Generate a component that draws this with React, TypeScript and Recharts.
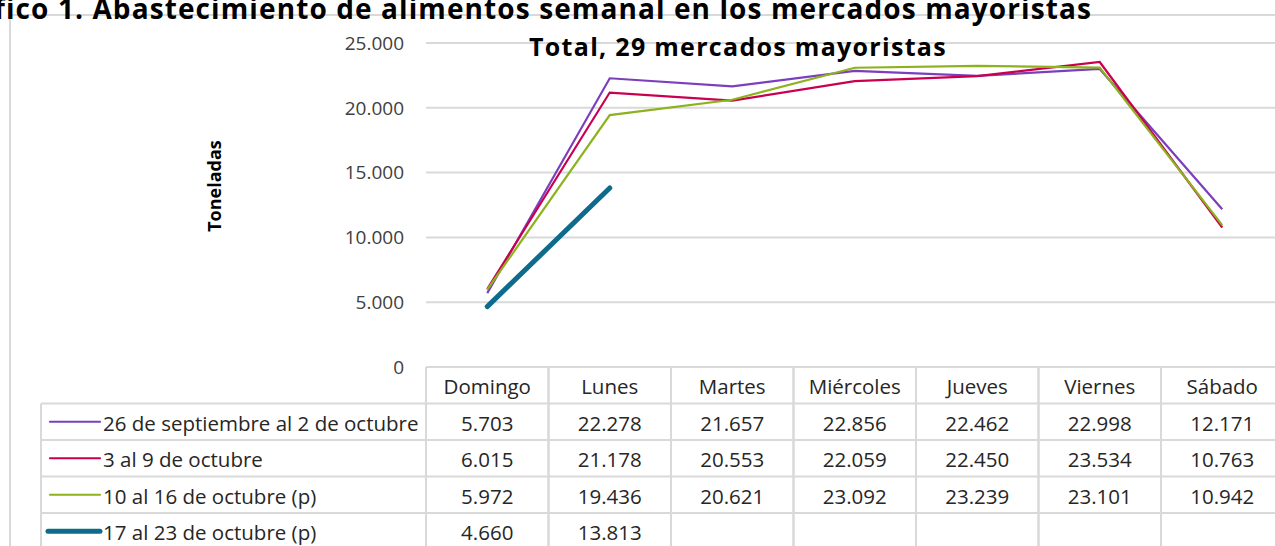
import React from "react";
import { CartesianGrid, Line, LineChart, XAxis, YAxis } from "recharts";

const DAYS = ["Domingo", "Lunes", "Martes", "Miércoles", "Jueves", "Viernes", "Sábado"];
const SEMANA_1 = [5703, 22278, 21657, 22856, 22462, 22998, 12171];
const SEMANA_2 = [6015, 21178, 20553, 22059, 22450, 23534, 10763];
const SEMANA_3 = [5972, 19436, 20621, 23092, 23239, 23101, 10942];
const SEMANA_4 = [4660, 13813, null, null, null, null, null];
const SERIES_NAMES = [
  "26 de septiembre al 2 de octubre",
  "3 al 9 de octubre",
  "10 al 16 de octubre (p)",
  "17 al 23 de octubre (p)",
];
const Y_TICKS = [0, 5000, 10000, 15000, 20000, 25000];

const COLORS = ["#7b3fbd", "#c8004f", "#8cb21d", "#0e6b8c"];
const WIDTHS = [2.2, 2.2, 2.2, 5];
const ALL = [SEMANA_1, SEMANA_2, SEMANA_3, SEMANA_4];

const data = DAYS.map((d, i) => ({
  day: d,
  s1: SEMANA_1[i],
  s2: SEMANA_2[i],
  s3: SEMANA_3[i],
  s4: SEMANA_4[i],
}));

// layout
const PLOT_LEFT = 426;
const PLOT_TOP = 43;
const PLOT_BOTTOM = 367;
const COL_W = 122.5;
const ROW_H = 36.5;
const LEGEND_LEFT = 41;
const GRID = "#d9d9d9";
const FONT = "'Open Sans', sans-serif";
const TABLE_FS = 20.5;

const fmt = (n: number) => String(n).replace(/\B(?=(\d{3})+(?!\d))/g, ".");

function TableTick(props: any) {
  const { x, index, payload } = props;
  const left = x - COL_W / 2;
  const top = PLOT_BOTTOM;
  const rows = ALL.length + 1;
  const bottom = top + ROW_H * rows + 10;
  return (
    <g fontFamily={FONT} fontSize={TABLE_FS} fill="#262626">
      <line x1={left} x2={left} y1={top} y2={bottom} stroke={GRID} strokeWidth={2} />
      <line x1={left + COL_W} x2={left + COL_W} y1={top} y2={bottom} stroke={GRID} strokeWidth={2} />
      {Array.from({ length: rows }).map((_, r) => (
        <line key={r} x1={left} x2={left + COL_W} y1={top + ROW_H * (r + 1)} y2={top + ROW_H * (r + 1)} stroke={GRID} strokeWidth={2} />
      ))}
      <text x={x} y={top + ROW_H / 2 + 1} textAnchor="middle" dominantBaseline="central">
        {payload.value}
      </text>
      {ALL.map((s, r) =>
        s[index] == null ? null : (
          <text key={r} x={x} y={top + ROW_H * (r + 1.5) + 1} textAnchor="middle" dominantBaseline="central">
            {fmt(s[index] as number)}
          </text>
        )
      )}
      {index === 0 && (
        <g>
          <line x1={LEGEND_LEFT} x2={LEGEND_LEFT} y1={top + ROW_H} y2={bottom} stroke={GRID} strokeWidth={2} />
          {ALL.map((_, r) => (
            <line key={"h" + r} x1={LEGEND_LEFT} x2={left} y1={top + ROW_H * (r + 1)} y2={top + ROW_H * (r + 1)} stroke={GRID} strokeWidth={2} />
          ))}
          {SERIES_NAMES.map((name, r) => {
            const cy = top + ROW_H * (r + 1.5);
            return (
              <g key={"l" + r}>
                <line x1={r === 3 ? 48 : 50} x2={100} y1={cy} y2={cy} stroke={COLORS[r]} strokeWidth={WIDTHS[r]} strokeLinecap="round" />
                <text x={103} y={cy + 1} dominantBaseline="central">
                  {name}
                </text>
              </g>
            );
          })}
        </g>
      )}
    </g>
  );
}

export default function App() {
  return (
    <div style={{ position: "fixed", left: 0, top: 0, width: 1275, height: 546, overflow: "hidden", background: "#fff" }}>
      <div style={{ position: "absolute", left: 9, top: 14, width: 1320, height: 600, border: `2px solid ${GRID}` }} />
      <div
        style={{
          position: "absolute",
          right: 1275 - 1092,
          top: -6,
          lineHeight: 1,
          whiteSpace: "nowrap",
          fontFamily: FONT,
          fontWeight: 700,
          fontSize: 28,
          letterSpacing: 1.1,
          color: "#000",
        }}
      >
        Gráfico 1. Abastecimiento de alimentos semanal en los mercados mayoristas
      </div>
      <div style={{ position: "absolute", left: 0, top: 0 }}>
        <LineChart
          width={1290}
          height={560}
          data={data}
          margin={{ top: PLOT_TOP, right: 1290 - PLOT_LEFT - COL_W * 7, left: PLOT_LEFT - 80, bottom: 0 }}
        >
          <CartesianGrid vertical={false} stroke={GRID} strokeWidth={2} />
          <XAxis
            dataKey="day"
            height={560 - PLOT_BOTTOM}
            axisLine={false}
            tickLine={false}
            padding={{ left: COL_W / 2, right: COL_W / 2 }}
            interval={0}
            tick={<TableTick />}
          />
          <YAxis
            width={80}
            domain={[0, 25000]}
            ticks={Y_TICKS}
            axisLine={false}
            tickLine={false}
            tickMargin={16}
            tickFormatter={fmt}
            tick={{ fontFamily: FONT, fontSize: 19, fill: "#404040" }}
          />
          <Line dataKey="s1" stroke={COLORS[0]} strokeWidth={WIDTHS[0]} dot={false} isAnimationActive={false} />
          <Line dataKey="s2" stroke={COLORS[1]} strokeWidth={WIDTHS[1]} dot={false} isAnimationActive={false} />
          <Line dataKey="s3" stroke={COLORS[2]} strokeWidth={WIDTHS[2]} dot={false} isAnimationActive={false} />
          <Line dataKey="s4" stroke={COLORS[3]} strokeWidth={WIDTHS[3]} strokeLinecap="round" dot={false} isAnimationActive={false} />
        </LineChart>
      </div>
      <div
        style={{
          position: "absolute",
          left: 738,
          top: 34,
          lineHeight: 1,
          transform: "translateX(-50%)",
          whiteSpace: "nowrap",
          fontFamily: FONT,
          fontWeight: 700,
          fontSize: 25,
          letterSpacing: 1.3,
          color: "#000",
        }}
      >
        Total, 29 mercados mayoristas
      </div>
      <div
        style={{
          position: "absolute",
          left: 214,
          top: 186,
          transform: "translate(-50%, -50%) rotate(-90deg)",
          whiteSpace: "nowrap",
          fontFamily: FONT,
          fontWeight: 700,
          fontSize: 18,
          color: "#000",
        }}
      >
        Toneladas
      </div>
    </div>
  );
}
